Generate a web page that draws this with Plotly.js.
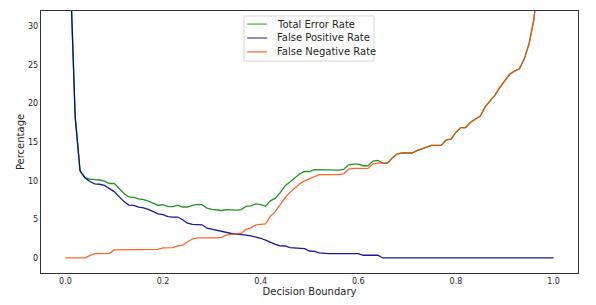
<!DOCTYPE html>
<html>
<head>
<meta charset="utf-8">
<script src="https://cdn.plot.ly/plotly-3.0.1.min.js"></script>
<style>html,body{margin:0;padding:0;background:#fff;}#chart{width:596px;height:305px;}</style>
</head>
<body>
<div id="chart"></div>
<script>
var boundary = [0.00,0.01,0.02,0.03,0.04,0.05,0.06,0.07,0.08,0.09,0.10,0.11,0.12,0.13,0.14,0.15,0.16,0.17,0.18,0.19,0.20,0.21,0.22,0.23,0.24,0.25,0.26,0.27,0.28,0.29,0.30,0.31,0.32,0.33,0.34,0.35,0.36,0.37,0.38,0.39,0.40,0.41,0.42,0.43,0.44,0.45,0.46,0.47,0.48,0.49,0.50,0.51,0.52,0.53,0.54,0.55,0.56,0.57,0.58,0.59,0.60,0.61,0.62,0.63,0.64,0.65,0.66,0.67,0.68,0.69,0.70,0.71,0.72,0.73,0.74,0.75,0.76,0.77,0.78,0.79,0.80,0.81,0.82,0.83,0.84,0.85,0.86,0.87,0.88,0.89,0.90,0.91,0.92,0.93,0.94,0.95,0.96,0.97,0.98,0.99,1.00];

var totalError = [60,37,18.3,11.3,10.4,10.2,10.15,10.1,9.95,9.65,9.65,9.0,8.35,7.9,7.85,7.65,7.55,7.35,7.1,6.8,6.9,6.65,6.65,6.85,6.6,6.6,6.8,6.95,6.9,6.45,6.3,6.2,6.15,6.25,6.22,6.2,6.26,6.67,6.75,7.0,6.9,6.7,7.4,7.75,8.46,9.35,9.85,10.4,10.9,11.2,11.2,11.45,11.45,11.37,11.37,11.37,11.37,11.47,12.07,12.17,12.17,11.95,11.95,12.55,12.65,12.3,12.3,13.0,13.5,13.6,13.6,13.6,13.9,14.1,14.4,14.6,14.6,14.6,15.3,15.4,16.3,16.9,16.9,17.6,18.0,18.4,19.6,20.3,21.1,22.1,23.0,23.8,24.2,24.5,25.8,27.8,31.0,37,46,62,100];

var falsePositive = [60,37,18.3,11.3,10.4,9.9,9.6,9.55,9.4,9.05,8.6,7.95,7.3,6.85,6.8,6.6,6.5,6.3,6.05,5.7,5.6,5.35,5.3,5.3,4.95,4.5,4.35,4.35,4.3,3.85,3.7,3.6,3.45,3.3,3.17,3.1,3.06,2.97,2.85,2.7,2.55,2.3,2.0,1.75,1.56,1.55,1.35,1.3,1.3,1.2,0.9,0.85,0.65,0.57,0.57,0.57,0.57,0.57,0.57,0.57,0.57,0.35,0.35,0.35,0.35,0,0,0,0,0,0,0,0,0,0,0,0,0,0,0,0,0,0,0,0,0,0,0,0,0,0,0,0,0,0,0,0,0,0,0,0];

var falseNegative = [0,0,0,0,0,0.3,0.55,0.55,0.55,0.6,1.05,1.05,1.05,1.05,1.05,1.05,1.05,1.05,1.05,1.1,1.3,1.3,1.35,1.55,1.65,2.1,2.45,2.6,2.6,2.6,2.6,2.6,2.7,2.95,3.05,3.1,3.2,3.7,3.9,4.3,4.35,4.4,5.4,6.0,6.9,7.8,8.5,9.1,9.6,10.0,10.3,10.6,10.8,10.8,10.8,10.8,10.8,10.9,11.5,11.6,11.6,11.6,11.6,12.2,12.3,12.3,12.3,13.0,13.5,13.6,13.6,13.6,13.9,14.1,14.4,14.6,14.6,14.6,15.3,15.4,16.3,16.9,16.9,17.6,18.0,18.4,19.6,20.3,21.1,22.1,23.0,23.8,24.2,24.5,25.8,27.8,31.0,37,46,62,100];

var seriesNames = ['Total Error Rate', 'False Positive Rate', 'False Negative Rate'];
var xTicks = [0.0,0.2,0.4,0.6,0.8,1.0];
var xTickText = ['0.0','0.2','0.4','0.6','0.8','1.0'];
var yTicks = [0,5,10,15,20,25,30];
var yTickText = ['0','5','10','15','20','25','30'];

var font = 'DejaVu Sans, sans-serif';
var lineColors = ['rgba(0,128,0,0.85)', 'rgba(0,0,139,0.9)', 'rgba(255,75,10,0.85)'];
var legendColors = ['rgba(0,128,0,0.55)', 'rgba(0,0,139,0.6)', 'rgba(255,75,10,0.7)'];
var seriesValues = [totalError, falsePositive, falseNegative];

var data = seriesValues.map(function (vals, i) {
  return {x: boundary, y: vals, name: seriesNames[i], mode: 'lines',
    line: {color: lineColors[i], width: 1.3}};
});

// custom legend (compact spacing like the reference)
var shapes = [{type: 'rect', xref: 'paper', yref: 'paper',
  x0: 0.378, x1: 0.620, y0: 0.809, y1: 0.981,
  line: {color: '#d6d6d6', width: 1}, fillcolor: '#ffffff', layer: 'above'}];
var annotations = [];
var rowY = [0.950, 0.897, 0.844];
seriesNames.forEach(function (n, i) {
  shapes.push({type: 'line', xref: 'paper', yref: 'paper',
    x0: 0.384, x1: 0.421, y0: rowY[i], y1: rowY[i],
    line: {color: legendColors[i], width: 1.5}, layer: 'above'});
  annotations.push({xref: 'paper', yref: 'paper', x: 0.436, y: rowY[i],
    xanchor: 'left', yanchor: 'middle', showarrow: false, text: n,
    font: {family: font, size: 10, color: '#262626'}});
});

var layout = {
  width: 596, height: 305,
  margin: {l: 41, r: 18, t: 11, b: 32, pad: 0},
  paper_bgcolor: '#fff', plot_bgcolor: '#fff',
  font: {family: font, size: 8, color: '#262626'},
  showlegend: false,
  shapes: shapes,
  annotations: annotations,
  xaxis: {range: [-0.05, 1.05], tickvals: xTicks, ticktext: xTickText,
    showgrid: false, zeroline: false, showline: true, mirror: true,
    linecolor: '#333', linewidth: 1.3, ticks: '',
    tickfont: {family: font, size: 8, color: '#262626'},
    title: {text: 'Decision Boundary', font: {family: font, size: 10, color: '#262626'}, standoff: 0}},
  yaxis: {range: [-1.95, 32], tickvals: yTicks, ticktext: yTickText,
    showgrid: false, zeroline: false, showline: true, mirror: true,
    linecolor: '#333', linewidth: 1.3, ticks: '',
    tickfont: {family: font, size: 8, color: '#262626'},
    title: {text: 'Percentage', font: {family: font, size: 10, color: '#262626'}, standoff: 1}}
};

Plotly.newPlot('chart', data, layout, {displayModeBar: false, staticPlot: true});
</script>
</body>
</html>
